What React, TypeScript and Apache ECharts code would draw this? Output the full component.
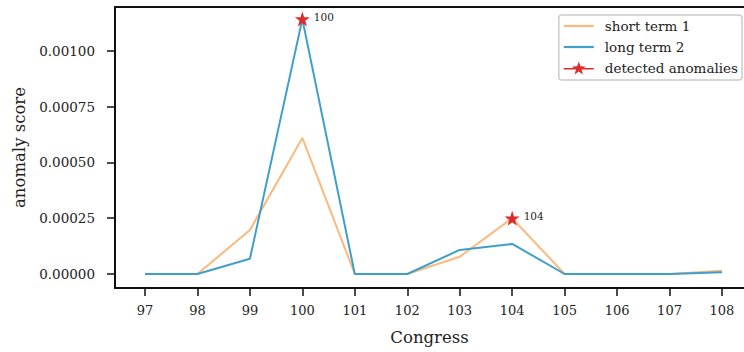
import React, { useEffect, useRef } from "react";
import * as echarts from "echarts";

const congresses = [97, 98, 99, 100, 101, 102, 103, 104, 105, 106, 107, 108];
const shortTerm1 = [0, 0, 0.000197, 0.00061, 0, 0, 0.000077, 0.00025, 0, 0, 0, 0.000015];
const longTerm2 = [0, 0, 0.000068, 0.001143, 0, 0, 0.000108, 0.000135, 0, 0, 0, 0.000008];
const anomalyCongress = [100, 104];
const anomalyScore = [0.001143, 0.00025];
const yTicks = [0, 0.00025, 0.0005, 0.00075, 0.001];

const FONT = "DejaVu Serif";
const STAR =
  "path://M12,0 L14.9,8.6 L24,8.6 L16.6,14 L19.4,22.8 L12,17.4 L4.6,22.8 L7.4,14 L0,8.6 L9.1,8.6 Z";
const LEGEND_LINE = "path://M0,0 H30 V2.2 H0 Z";
const LEGEND_STAR_LINE =
  "path://M0,6.7 H30 V8.1 H0 Z M15,0.2 L16.71,5.05 L21.85,5.17 L17.76,8.3 L19.23,13.22 L15,10.3 L10.77,13.22 L12.24,8.3 L8.15,5.17 L13.29,5.05 Z";
const ORANGE = "#FDB97D";
const BLUE = "#3E9FCB";
const RED = "#E02B2B";

export default function App() {
  const ref = useRef<HTMLDivElement>(null);
  useEffect(() => {
    if (!ref.current) return;
    const chart = echarts.init(ref.current, undefined, { renderer: "svg" });
    const axisLineStyle = { color: "#111", width: 2 };
    chart.setOption({
      animation: false,
      backgroundColor: "#fff",
      grid: { left: 115, right: 0, top: 7, bottom: 64, show: false },
      xAxis: [
        {
          type: "value",
          min: 96.428,
          max: 108.42,
          name: "Congress",
          nameLocation: "middle",
          nameGap: 41,
          nameTextStyle: { fontFamily: FONT, fontSize: 16.5, color: "#222" },
          axisLine: { show: true, lineStyle: axisLineStyle, onZero: false },
          axisTick: { show: true, length: 8, lineStyle: { color: "#111", width: 1.5 }, customValues: congresses },
          axisLabel: {
            fontFamily: FONT,
            fontSize: 13,
            color: "#222",
            margin: 16,
            customValues: congresses,
          },
          splitLine: { show: false },
        },
        {
          type: "value",
          position: "top",
          min: 96.428,
          max: 108.42,
          axisLine: { show: true, lineStyle: axisLineStyle, onZero: false },
          axisTick: { show: false },
          axisLabel: { show: false },
          splitLine: { show: false },
        },
      ],
      yAxis: {
        type: "value",
        min: -0.0000628,
        max: 0.0011973,
        name: "anomaly score",
        nameLocation: "middle",
        nameGap: 87,
        nameTextStyle: { fontFamily: FONT, fontSize: 16.5, color: "#222" },
        axisLine: { show: true, lineStyle: axisLineStyle, onZero: false },
        axisTick: { show: true, length: 8, lineStyle: { color: "#111", width: 1.5 }, customValues: yTicks },
        axisLabel: {
          fontFamily: FONT,
          fontSize: 13.5,
          color: "#222",
          margin: 20,
          customValues: yTicks,
          formatter: (v: number) => v.toFixed(5),
        },
        splitLine: { show: false },
      },
      legend: {
        orient: "vertical",
        right: 2,
        top: 15,
        padding: [4, 4, 5, 5],
        itemWidth: 30,
        itemHeight: 14,
        itemGap: 7,
        backgroundColor: "#fff",
        borderColor: "#ccc",
        borderWidth: 1.5,
        borderRadius: 3,
        textStyle: { fontFamily: FONT, fontSize: 13.5, color: "#222", padding: [0, 0, 0, 6] },
        data: [
          { name: "short term 1", icon: LEGEND_LINE, itemStyle: { color: ORANGE } },
          { name: "long term 2", icon: LEGEND_LINE, itemStyle: { color: BLUE } },
          { name: "detected anomalies", icon: LEGEND_STAR_LINE, itemStyle: { color: RED } },
        ],
      },
      series: [
        {
          name: "short term 1",
          type: "line",
          symbol: "none",
          data: congresses.map((c, i) => [c, shortTerm1[i]]),
          lineStyle: { color: ORANGE, width: 2 },
          itemStyle: { color: ORANGE },
          z: 2,
        },
        {
          name: "long term 2",
          type: "line",
          symbol: "none",
          data: congresses.map((c, i) => [c, longTerm2[i]]),
          lineStyle: { color: BLUE, width: 2 },
          itemStyle: { color: BLUE },
          z: 3,
        },
        {
          name: "detected anomalies",
          type: "line",
          symbol: STAR,
          symbolSize: 15,
          showSymbol: true,
          data: anomalyCongress.map((c, i) => [c, anomalyScore[i]]),
          lineStyle: { width: 0, opacity: 0, color: RED },
          itemStyle: { color: RED },
          label: {
            show: true,
            position: "right",
            distance: 4,
            offset: [0, -2],
            formatter: (p: any) => String(p.value[0]),
            fontFamily: FONT,
            fontSize: 10.5,
            color: "#222",
          },
          z: 5,
        },
      ],
    });
    return () => chart.dispose();
  }, []);
  return (
    <div
      ref={ref}
      style={{ position: "fixed", left: 0, top: 0, width: 744, height: 352 }}
    />
  );
}
